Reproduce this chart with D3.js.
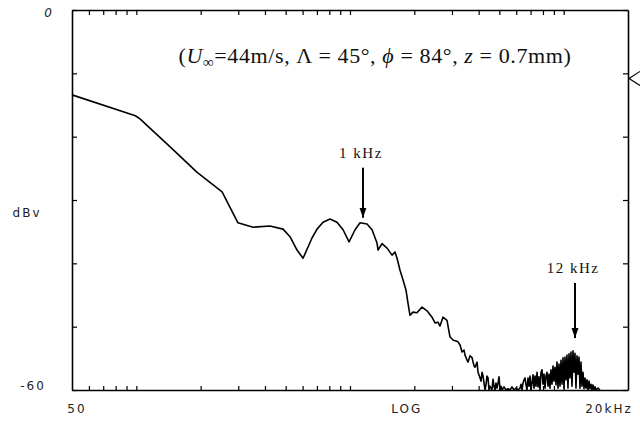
<!DOCTYPE html>
<html>
<head>
<meta charset="utf-8">
<script src="https://cdn.jsdelivr.net/npm/d3@7"></script>
<style>
  body { margin: 0; background: #fff; }
  .lbl { font-family: "DejaVu Sans", sans-serif; font-size: 12px; fill: #222; letter-spacing: 2px; }
  .ser { font-family: "Liberation Serif", serif; fill: #111; }
</style>
</head>
<body>
<div id="chart"></div>
<script>
// spectrum (Hz, dBv)
var freqHz = [50, 99, 104, 144, 192, 252, 299, 352, 422, 486, 524, 565, 603, 664, 701, 748, 806, 869, 928, 990,
  1056, 1114, 1201, 1268, 1338, 1353, 1412, 1491, 1573, 1624, 1660, 1714, 1770, 1828, 1868, 1909, 1971, 2058, 2173, 2293,
  2420, 2499, 2581, 2637, 2724, 2844, 2937, 3033, 3201,
  3273, 3344, 3417, 3454, 3530, 3568, 3645, 3725, 3806, 3847, 3931, 3974, 4060, 4104, 4149, 4194, 4285, 4331, 4378, 4426,
  4473, 4522, 4620, 4670, 4721, 4772, 4823, 4876, 4928, 4982, 5036, 5090, 5145, 5257, 5372, 5489, 5608, 5731, 5855, 5983,
  6113, 6246, 6314, 6382, 6451, 6521, 6592, 6663, 6735, 6808, 6882, 6957, 7032, 7108, 7185, 7263, 7342, 7421, 7502, 7583,
  7665, 7748, 7832, 7917, 8002, 8089, 8177, 8265, 8355, 8445, 8537, 8629, 8723, 8817, 8913, 9009, 9107, 9206, 9305, 9406,
  9508, 9611, 9715, 9820, 9926, 10034, 10142, 10252, 10363, 10475, 10589, 10703, 10819, 10937, 11055, 11175, 11296, 11418, 11542, 11667,
  11793, 11921, 12050, 12181, 12313, 12446, 12581, 12717, 12855, 12994, 13135, 13277, 13421, 13566, 13713, 13862, 14012, 14164, 14472, 14787];
var levelDb = [-13.4, -16.7, -17.2, -21.6, -25.6, -28.7, -33.6, -34.3, -34.1, -34.6, -35.8, -37.9, -39.2, -36.0, -34.6, -33.5, -33.0, -33.5, -34.7, -36.6,
  -34.7, -33.6, -33.8, -34.7, -36.8, -37.9, -36.9, -37.6, -38.7, -38.2, -39.2, -41.1, -42.6, -44.2, -46.3, -48.2, -47.7, -47.8, -46.9, -47.5,
  -48.5, -49.4, -49.3, -49.9, -48.5, -49.0, -51.6, -52.1, -52.4,
  -52.9, -54.0, -53.7, -54.5, -55.3, -55.6, -54.6, -54.9, -56.2, -56.4, -55.6, -57.2, -58.1, -58.6, -57.2, -57.8, -60.0, -59.1, -57.8, -58.1,
  -60.0, -59.4, -60.0, -58.3, -59.4, -60.0, -58.9, -59.7, -58.9, -57.9, -60.0, -59.4, -60.0, -59.5, -60.0, -59.8, -60.0, -59.5, -60.0, -59.7,
  -60.0, -59.7, -59.1, -60.0, -58.9, -58.4, -58.1, -59.2, -60.0, -58.1, -59.4, -57.8, -60.0, -58.9, -57.6, -59.7, -57.8, -59.4, -57.2, -59.5,
  -57.9, -60.0, -57.2, -56.8, -59.1, -57.5, -59.7, -57.8, -57.2, -59.4, -57.5, -59.7, -56.8, -59.1, -56.2, -58.6, -56.4, -59.2, -55.6, -59.7,
  -55.9, -59.4, -55.3, -59.1, -54.9, -59.7, -54.8, -58.4, -54.5, -59.7, -54.3, -58.1, -54.0, -59.4, -53.8, -57.2, -54.2, -59.7, -54.6, -57.5,
  -54.8, -59.7, -55.6, -59.4, -57.2, -59.8, -58.1, -59.7, -58.4, -60.0, -58.6, -59.8, -59.1, -60.0, -59.2, -60.0, -59.5, -60.0, -59.7, -60.0];

var dbTicks = [0, -10, -20, -30, -40, -50, -60];
var freqTicks = [60, 70, 80, 90, 100, 200, 300, 400, 500, 600, 700, 800, 900,
  1000, 2000, 3000, 4000, 5000, 6000, 7000, 8000, 9000, 10000];
var peakFreqs = [1150, 11300];
var peakLabels = ["1 kHz", "12 kHz"];
var peakTipDb = [-32.8, -51.8];
var peakTailDb = [-24.9, -43.1];

var margin = { top: 10, right: 12, bottom: 36, left: 72 },
  width = 640 - margin.left - margin.right,
  height = 426 - margin.top - margin.bottom;

var svg = d3.select("#chart")
  .append("svg")
  .attr("width", 640)
  .attr("height", 426)
  .append("g")
  .attr("transform", "translate(" + margin.left + "," + margin.top + ")");

var x = d3.scaleLog().domain([50, 20000]).range([0, width]);
var y = d3.scaleLinear().domain([-60, 0]).range([height, 0]);

// frame + inward ticks
function frameAxis(g) {
  g.selectAll("path").attr("stroke", "#000").attr("stroke-width", 1.6);
  g.selectAll("line").attr("stroke", "#000").attr("stroke-width", 1.2);
}
svg.append("g").call(d3.axisLeft(y).tickValues(dbTicks).tickSize(-5).tickSizeOuter(0).tickFormat("")).call(frameAxis);
svg.append("g").attr("transform", "translate(" + width + ",0)")
  .call(d3.axisRight(y).tickValues(dbTicks).tickSize(-5).tickSizeOuter(0).tickFormat("")).call(frameAxis);
svg.append("g").call(d3.axisTop(x).tickValues(freqTicks).tickSize(-5).tickSizeOuter(0).tickFormat("")).call(frameAxis);
svg.append("g").attr("transform", "translate(0," + height + ")")
  .call(d3.axisBottom(x).tickValues(freqTicks).tickSize(-4).tickSizeOuter(0).tickFormat("")).call(frameAxis);

// spectrum
var pts = freqHz.map(function (f, i) { return [f, levelDb[i]]; });
svg.append("path")
  .datum(pts)
  .attr("fill", "none")
  .attr("stroke", "#000")
  .attr("stroke-width", 1.6)
  .attr("stroke-linejoin", "round")
  .attr("d", d3.line()
    .x(function (d) { return x(d[0]); })
    .y(function (d) { return y(Math.max(d[1], -60)); }));

// arrows
svg.append("defs").append("marker")
  .attr("id", "ah").attr("viewBox", "0 0 10 10").attr("refX", 10).attr("refY", 5)
  .attr("markerWidth", 5).attr("markerHeight", 5).attr("markerUnits", "strokeWidth")
  .attr("orient", "auto")
  .append("path").attr("d", "M0,1.5 L10,5 L0,8.5 Z").attr("fill", "#000");

peakFreqs.forEach(function (f, i) {
  svg.append("line")
    .attr("x1", x(f)).attr("x2", x(f))
    .attr("y1", y(peakTailDb[i])).attr("y2", y(peakTipDb[i]))
    .attr("stroke", "#000").attr("stroke-width", 2)
    .attr("marker-end", "url(#ah)");
  svg.append("text").attr("class", "ser")
    .attr("x", x(f) - 2).attr("y", y(peakTailDb[i]) - 10)
    .attr("text-anchor", "middle")
    .style("font-size", "15px").style("letter-spacing", "1.5px")
    .text(peakLabels[i]);
});

// condition note
var note = svg.append("text").attr("class", "ser")
  .attr("x", (173 + 577) / 2 - margin.left).attr("y", 53)
  .attr("text-anchor", "middle")
  .style("font-size", "22px").style("letter-spacing", "0.6px");
note.append("tspan").text("(");
note.append("tspan").style("font-style", "italic").text("U");
note.append("tspan").attr("dy", 4).style("font-size", "15px").text("\u221e");
note.append("tspan").attr("dy", -4).text("=44m/s, \u039b = 45\u00b0, ");
note.append("tspan").style("font-style", "italic").text("\u03d5");
note.append("tspan").text(" = 84\u00b0, ");
note.append("tspan").style("font-style", "italic").text("z");
note.append("tspan").text(" = 0.7mm)");

// axis labels
svg.append("text").attr("class", "lbl").attr("x", -23).attr("y", y(0) + 7)
  .attr("text-anchor", "middle").style("font-style", "italic").text("0");
svg.append("text").attr("class", "lbl").attr("x", -39).attr("y", y(-60))
  .attr("text-anchor", "middle").text("-60");
svg.append("text").attr("class", "lbl").attr("x", -45).attr("y", y(-32) + 4)
  .attr("text-anchor", "middle").text("dBv");
svg.append("text").attr("class", "lbl").attr("x", x(50) + 5).attr("y", height + 23)
  .attr("text-anchor", "middle").text("50");
svg.append("text").attr("class", "lbl").attr("x", width * 0.602).attr("y", height + 23)
  .attr("text-anchor", "middle").text("LOG");
svg.append("text").attr("class", "lbl").attr("x", width - 19).attr("y", height + 23)
  .attr("text-anchor", "middle").text("20kHz");

// small marker outside the right edge
svg.append("path")
  .attr("d", "M" + (width + 12) + "," + (y(-10.8) - 7) + " L" + (width + 1) + "," + y(-10.8) + " L" + (width + 12) + "," + (y(-10.8) + 7))
  .attr("fill", "none").attr("stroke", "#000").attr("stroke-width", 1.2);
</script>
</body>
</html>
